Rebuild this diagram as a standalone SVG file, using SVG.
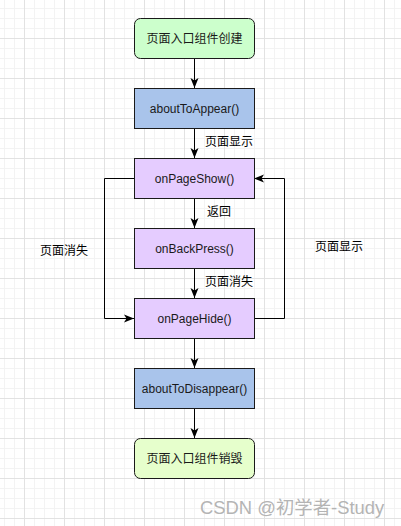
<svg xmlns="http://www.w3.org/2000/svg" width="401" height="526" viewBox="0 0 401 526">
<defs>
<pattern id="minor" width="10" height="10" patternUnits="userSpaceOnUse" x="4" y="8">
<path d="M0 0.5H10M0.5 0V10" fill="none" stroke="#f3f3f3" stroke-width="1"/>
</pattern>
<pattern id="major" width="40" height="40" patternUnits="userSpaceOnUse" x="24" y="38">
<path d="M0 0.5H40M0.5 0V40" fill="none" stroke="#e2e2e2" stroke-width="1"/>
</pattern>
<marker id="arr" viewBox="0 0 10 10" refX="10" refY="5" markerWidth="10" markerHeight="10" markerUnits="userSpaceOnUse" orient="auto">
<path d="M0 1 L10 5 L0 9 L2.5 5 Z" fill="#000"/>
</marker>
</defs>
<style>
.box{stroke:#1a1a1a;stroke-width:1}
.green{fill:#ccffcc}
.lime{fill:#e6ffcc}
.blue{fill:#a9c4eb}
.purple{fill:#e5ccff}
.t{font-family:"Liberation Sans","Noto Sans CJK SC",sans-serif;font-size:12px;fill:#1a1a1a;text-anchor:middle;dominant-baseline:central}
.lbl{font-family:"Liberation Sans","Noto Sans CJK SC",sans-serif;font-size:12px;fill:#000;dominant-baseline:central}
.edge{fill:none;stroke:#000;stroke-width:1;marker-end:url(#arr)}
</style>
<rect width="401" height="526" fill="#fff"/>
<rect width="401" height="526" fill="url(#minor)"/>
<rect width="401" height="526" fill="url(#major)"/>

<g id="connectors">
<path class="edge" d="M194.5 58V88"/>
<path class="edge" d="M194.5 128V158"/>
<path class="edge" d="M194.5 198V228"/>
<path class="edge" d="M194.5 268V298"/>
<path class="edge" d="M194.5 338V368"/>
<path class="edge" d="M194.5 408V438"/>
<path class="edge" d="M134 178.5H104.5V318.5H134"/>
<path class="edge" d="M254 318.5H284.5V178.5H254"/>
<text class="lbl" x="205" y="142">页面显示</text>
<text class="lbl" x="207" y="212">返回</text>
<text class="lbl" x="205" y="282">页面消失</text>
<text class="lbl" x="40" y="251">页面消失</text>
<text class="lbl" x="315" y="247">页面显示</text>
</g>

<g id="create">
<rect class="box green" x="134.5" y="18.5" width="120" height="40" rx="6"/>
<text class="t" x="194.5" y="38.5">页面入口组件创建</text>
</g>
<g id="aboutToAppear">
<rect class="box blue" x="134.5" y="88.5" width="120" height="40"/>
<text class="t" x="194.5" y="108.5">aboutToAppear()</text>
</g>
<g id="onPageShow">
<rect class="box purple" x="134.5" y="158.5" width="120" height="40"/>
<text class="t" x="194.5" y="178.5">onPageShow()</text>
</g>
<g id="onBackPress">
<rect class="box purple" x="134.5" y="228.5" width="120" height="40"/>
<text class="t" x="194.5" y="248.5">onBackPress()</text>
</g>
<g id="onPageHide">
<rect class="box purple" x="134.5" y="298.5" width="120" height="40"/>
<text class="t" x="194.5" y="318.5">onPageHide()</text>
</g>
<g id="aboutToDisappear">
<rect class="box blue" x="134.5" y="368.5" width="120" height="40"/>
<text class="t" x="194.5" y="388.5">aboutToDisappear()</text>
</g>
<g id="destroy">
<rect class="box lime" x="134.5" y="438.5" width="120" height="40" rx="6"/>
<text class="t" x="194.5" y="458.5">页面入口组件销毁</text>
</g>

<text x="200" y="514" font-family="'Liberation Sans','Noto Sans CJK SC',sans-serif" font-size="18.4" fill="#b4b4b4">CSDN @初学者-Study</text>
</svg>
